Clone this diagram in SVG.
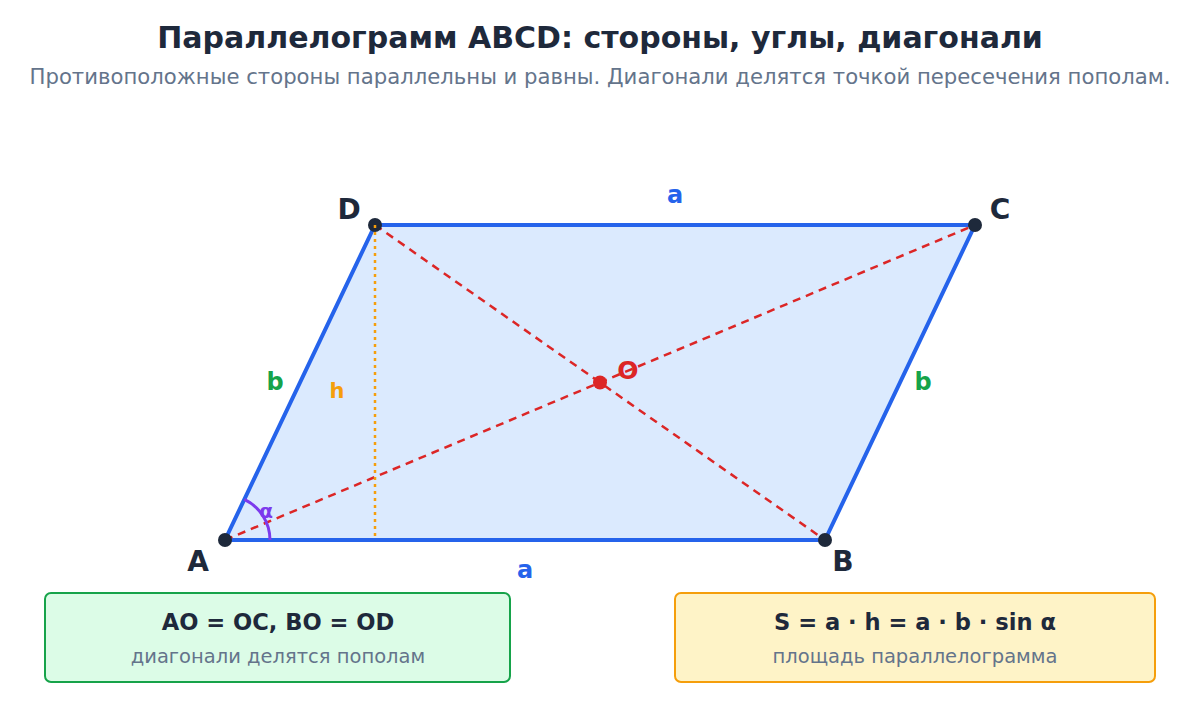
<svg xmlns="http://www.w3.org/2000/svg" width="1200" height="720" viewBox="0 0 1200 720">
<style>
text{font-family:"DejaVu Sans","Noto Sans",sans-serif}
.title{font-size:30px;font-weight:bold;fill:#1e293b;text-anchor:middle}
.sub{font-size:21.2px;fill:#64748b;text-anchor:middle}
.vtx{font-size:28px;font-weight:bold;fill:#1e293b;text-anchor:middle}
.side{font-size:24px;font-weight:bold;text-anchor:middle}
.diag{stroke:#dc2626;stroke-width:2.5;stroke-dasharray:8 6;fill:none}
.pt{fill:#1e293b}
.bt{font-size:22.6px;font-weight:bold;fill:#1e293b;text-anchor:middle}
.bs{font-size:19.5px;fill:#64748b;text-anchor:middle}
</style>
<rect width="1200" height="720" fill="#ffffff"/>
<text class="title" x="600" y="48">Параллелограмм ABCD: стороны, углы, диагонали</text>
<text class="sub" x="600" y="84">Противоположные стороны параллельны и равны. Диагонали делятся точкой пересечения пополам.</text>
<g id="parallelogram">
<polygon points="225,540 825,540 975,225 375,225" fill="#dbeafe" stroke="#2563eb" stroke-width="4" stroke-linejoin="round"/>
</g>
<g id="connectors">
<line class="diag" x1="225" y1="540" x2="975" y2="225"/>
<line class="diag" x1="375" y1="225" x2="825" y2="540"/>
<path d="M270,540 A45,45 0 0 0 244.3,499.4" fill="none" stroke="#7c3aed" stroke-width="3"/>
</g>
<g id="points">
<circle class="pt" cx="225" cy="540" r="7"/>
<circle class="pt" cx="825" cy="540" r="7"/>
<circle class="pt" cx="975" cy="225" r="7"/>
<circle class="pt" cx="375" cy="225" r="7"/>
<circle cx="600" cy="382.5" r="7" fill="#dc2626"/>
</g>
<g id="height">
<line x1="375" y1="225" x2="375" y2="540" stroke="#f59e0b" stroke-width="2.5" stroke-dasharray="3 4"/>
</g>
<g id="labels">
<text class="vtx" x="349" y="219">D</text>
<text class="vtx" x="1000" y="219">C</text>
<text class="vtx" x="198" y="571">A</text>
<text class="vtx" x="843" y="571">B</text>
<text x="628" y="379" font-size="25" font-weight="bold" fill="#dc2626" text-anchor="middle">O</text>
<text class="side" x="675" y="203" fill="#2563eb">a</text>
<text class="side" x="525" y="578" fill="#2563eb">a</text>
<text class="side" x="275" y="390" fill="#16a34a">b</text>
<text class="side" x="923" y="390" fill="#16a34a">b</text>
<text x="337" y="398" font-size="21" font-weight="bold" fill="#f59e0b" text-anchor="middle">h</text>
<text x="266" y="518" font-size="20" font-weight="bold" fill="#7c3aed" text-anchor="middle">α</text>
</g>
<g id="box-diagonals">
<rect x="45" y="593" width="465" height="89" rx="6" fill="#dcfce7" stroke="#16a34a" stroke-width="2"/>
<text class="bt" x="278" y="630">AO = OC, BO = OD</text>
<text class="bs" x="278" y="663">диагонали делятся пополам</text>
</g>
<g id="box-area">
<rect x="675" y="593" width="480" height="89" rx="6" fill="#fef3c7" stroke="#f59e0b" stroke-width="2"/>
<text class="bt" x="915" y="630">S = a · h = a · b · sin α</text>
<text class="bs" x="915" y="663">площадь параллелограмма</text>
</g>
</svg>
